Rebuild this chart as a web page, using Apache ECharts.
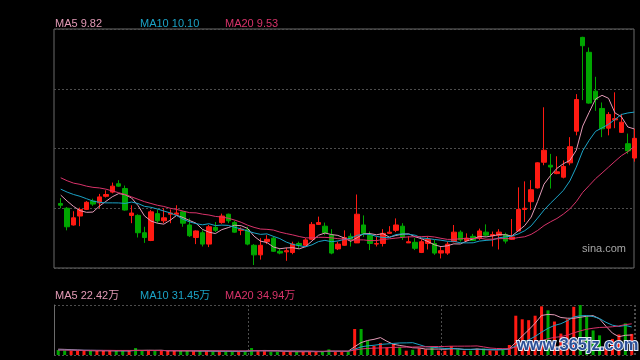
<!DOCTYPE html>
<html><head><meta charset="utf-8">
<script src="https://cdn.jsdelivr.net/npm/echarts@6/dist/echarts.min.js"></script>
<style>html,body{margin:0;padding:0;background:#000;}#c{width:640px;height:360px;}</style>
</head><body><div id="c"></div>
<script>
const opens=[8.58,8.50,8.22,8.37,8.48,8.62,8.59,8.70,8.77,8.91, 8.83,8.38,8.38,8.09,7.96,8.41,8.29,8.40,8.40,8.44, 8.22,8.01,8.09,7.90,8.18,8.26,8.40,8.26,8.13,8.14, 7.88,7.72,7.94,8.00,7.78,7.77,7.76,7.91,7.88,7.98, 8.23,8.20,8.05,7.82,7.88,8.03,7.92,8.22,8.05,7.90, 7.91,8.08,8.13,8.20,7.92,7.93,7.76,7.91,7.91,7.75, 7.75,7.94,8.10,7.96,8.03,8.00,8.10,8.04,8.05,8.06, 7.98,8.12,8.48,8.61,8.84,9.27,9.22,9.08,9.02,9.26, 9.79,11.36,11.11,10.46,10.17,9.84,9.98,9.77,9.58,9.34];
const closes=[8.55,8.19,8.34,8.48,8.60,8.57,8.69,8.73,8.87,8.87, 8.47,8.42,8.09,8.01,8.44,8.29,8.34,8.42,8.42,8.25, 8.04,8.12,7.90,8.19,8.13,8.37,8.29,8.10,8.15,7.90, 7.72,7.88,7.98,7.78,7.75,7.79,7.90,7.88,7.97,8.23, 8.26,8.09,7.75,7.90,8.01,7.98,8.40,8.08,7.91,7.91, 8.08,8.10,8.22,8.02,7.94,7.83,7.94,7.98,7.75,7.79, 7.90,8.10,7.97,8.00,7.96,8.12,8.05,8.06,8.10,7.95, 8.02,8.48,8.50,8.81,9.26,9.47,9.19,9.11,9.20,9.53, 10.32,11.22,10.26,10.32,9.83,10.07,10.00,9.94,9.46,9.67];
const lows=[8.50,8.13,8.21,8.20,8.47,8.54,8.50,8.68,8.75,8.86, 8.46,8.25,8.01,7.92,7.95,8.25,8.25,8.25,8.39,8.19, 8.02,7.90,7.86,7.85,8.10,8.24,8.25,8.09,8.05,7.88, 7.55,7.64,7.90,7.77,7.73,7.62,7.73,7.83,7.87,7.97, 8.22,8.05,7.73,7.80,7.87,7.86,7.92,8.02,7.80,7.86, 7.86,8.07,8.10,7.97,7.92,7.80,7.75,7.81,7.72,7.66, 7.72,7.93,7.94,7.94,7.95,7.97,8.03,7.86,7.81,7.91, 7.97,8.12,8.27,8.47,8.83,9.22,8.83,9.07,9.00,9.22, 9.72,10.31,10.25,10.13,9.69,9.72,9.84,9.76,9.41,9.28];
const highs=[8.67,8.52,8.45,8.51,8.62,8.66,8.74,8.80,8.93,8.97, 8.88,8.55,8.40,8.19,8.47,8.48,8.50,8.48,8.55,8.45, 8.33,8.13,8.13,8.22,8.27,8.41,8.41,8.29,8.18,8.19, 7.90,8.00,8.05,8.03,7.83,7.84,7.94,7.94,8.00,8.27, 8.36,8.26,8.15,7.94,8.13,8.08,8.73,8.38,8.11,8.02, 8.15,8.20,8.33,8.25,8.03,8.00,7.98,8.02,7.97,7.86, 7.94,8.22,8.13,8.08,8.07,8.16,8.23,8.11,8.15,8.09, 8.32,8.85,8.95,8.97,9.27,10.19,9.41,9.37,9.30,9.69, 10.41,11.37,11.19,10.70,10.27,10.11,10.44,10.08,9.75,9.83];
// volume in 万
const volumes=[5.6,5.2,4.8,4.8,4.8,4.5,4.8,4.6,4.8,4.5, 4.8,4.5,7.8,4.6,5.0,4.5,4.8,4.5,4.6,4.5, 4.6,4.2,4.5,4.6,4.0,4.2,4.0,4.0,4.2,4.0, 7.8,4.8,4.6,3.7,3.7,3.7,3.8,3.6,3.8,4.0, 3.8,3.7,6.3,3.8,3.8,3.6,29.1,29.1,15.7,10.1, 13.5,8.6,12.3,9.0,4.8,5.8,7.4,6.2,9.0,4.8, 4.8,10.0,6.3,4.8,4.8,7.2,7.2,4.8,4.8,6.2, 11.2,44.0,40.0,39.0,44.0,54.5,50.0,37.5,24.0,40.0, 54.0,56.0,43.0,27.5,22.0,12.0,18.0,23.0,35.5,23.6];
// moving-average values before the window fills
const ma5Head=[8.72,8.62,8.53,8.46];
const ma10Head=[8.82,8.77,8.73,8.70,8.66,8.62,8.60,8.59,8.59];
const ma20Head=[9.01,8.96,8.92,8.90,8.87,8.85,8.84,8.82,8.79,8.76,8.73,8.69,8.65,8.61,8.58,8.55,8.53,8.50,8.48];
const vma5Head=[6.5,6.3,6.0,5.5];
const vma10Head=[5.8,5.7,5.6,5.5,5.4,5.3,5.2,5.1,5.0];
const vma20Head=[5.5,5.5,5.4,5.4,5.3,5.3,5.2,5.2,5.2,5.1,5.1,5.1,5.1,5.0,5.0,5.0,5.0,4.9,4.9];
const priceLegend=['MA5 9.82','MA10 10.10','MA20 9.53'];
const volLegend=['MA5 22.42万','MA10 31.45万','MA20 34.94万'];
const categories=opens.map((_,i)=>String(i+1));

const UP='#ff1a12', DOWN='#00a600';
const C5='#e39ab6', C10='#1ba3c6', C20='#d8336a';
const FONT='"Liberation Sans", Arial, "Noto Sans CJK SC", sans-serif';

function movingAvg(vals,n,head){
  return vals.map((v,i)=>{
    if(i<n-1) return head[i];
    let s=0; for(let k=i-n+1;k<=i;k++) s+=vals[k];
    return +(s/n).toFixed(3);
  });
}
const dotted={color:'#4d4d4d',width:1,type:[2,2]};
const hiddenAxis={axisLine:{show:false},axisTick:{show:false},axisLabel:{show:false}};

const chart=echarts.init(document.getElementById('c'));
const legendTexts=[];
const legendColors=[C5,C10,C20];
[0,1,2].forEach(k=>{
  legendTexts.push({type:'text',left:55+85*k,top:18.5,style:{text:priceLegend[k],fill:legendColors[k],font:'11px '+FONT}});
  legendTexts.push({type:'text',left:55+85*k,top:290,style:{text:volLegend[k],fill:legendColors[k],font:'11px '+FONT}});
});
legendTexts.push({type:'text',left:582,top:243,style:{text:'sina.com',fill:'#a6a6a6',font:'11px '+FONT}});
legendTexts.push({type:'text',left:516,top:336,z:100,style:{text:'www.365jz.com',fill:'#2b4f96',stroke:'#e6edf8',lineWidth:2,font:'bold 16.5px '+FONT}});

chart.setOption({
  animation:false,
  backgroundColor:'#000',
  grid:[
    {left:54,top:29,width:580,height:239,show:true,borderColor:'#6b6b6b',borderWidth:1,backgroundColor:'transparent'},
    {left:57.5,top:29,width:580,height:239},
    {left:54,top:305,width:580,height:50},
    {left:55,top:305,width:580,height:50}
  ],
  xAxis:[
    Object.assign({gridIndex:0,type:'value',min:0,max:1,splitLine:{show:false}},hiddenAxis),
    {gridIndex:1,type:'category',data:categories,boundaryGap:true,show:false},
    Object.assign({gridIndex:2,type:'value',min:0,max:1,interval:1,splitLine:{show:true,lineStyle:dotted}},hiddenAxis),
    Object.assign({gridIndex:3,type:'category',data:categories,boundaryGap:true,
      splitLine:{show:true,interval:(i)=>i===30||i===60,lineStyle:dotted}},hiddenAxis)
  ],
  yAxis:[
    Object.assign({gridIndex:0,type:'value',min:0,max:4,interval:1,splitLine:{show:true,lineStyle:dotted}},hiddenAxis),
    {gridIndex:1,type:'value',min:7.5,max:11.5,show:false,splitLine:{show:false}},
    {gridIndex:2,type:'value',min:0,max:1,interval:1,splitLine:{show:true,lineStyle:dotted},
      axisLine:{show:true,lineStyle:{color:'#6b6b6b',width:1}},axisTick:{show:false},axisLabel:{show:false}},
    {gridIndex:3,type:'value',min:0,max:56,show:false,splitLine:{show:false}}
  ],
  graphic:legendTexts,
  series:[
    {type:'candlestick',xAxisIndex:1,yAxisIndex:1,barWidth:5,
      data:opens.map((o,i)=>[o,closes[i],lows[i],highs[i]]),
      itemStyle:{color:UP,color0:DOWN,borderColor:UP,borderColor0:DOWN,borderWidth:1}},
    {type:'line',xAxisIndex:1,yAxisIndex:1,data:movingAvg(closes,5,ma5Head),showSymbol:false,z:5,lineStyle:{color:C5,width:1}},
    {type:'line',xAxisIndex:1,yAxisIndex:1,data:movingAvg(closes,10,ma10Head),showSymbol:false,z:5,lineStyle:{color:C10,width:1}},
    {type:'line',xAxisIndex:1,yAxisIndex:1,data:movingAvg(closes,20,ma20Head),showSymbol:false,z:5,lineStyle:{color:C20,width:1}},
    {type:'bar',xAxisIndex:3,yAxisIndex:3,barWidth:3,
      data:volumes.map((v,i)=>({value:v,itemStyle:{color:closes[i]>=opens[i]?UP:DOWN}}))},
    {type:'line',xAxisIndex:3,yAxisIndex:3,data:movingAvg(volumes,5,vma5Head),showSymbol:false,z:5,lineStyle:{color:C5,width:1}},
    {type:'line',xAxisIndex:3,yAxisIndex:3,data:movingAvg(volumes,10,vma10Head),showSymbol:false,z:5,lineStyle:{color:C10,width:1}},
    {type:'line',xAxisIndex:3,yAxisIndex:3,data:movingAvg(volumes,20,vma20Head),showSymbol:false,z:5,lineStyle:{color:C20,width:1}}
  ]
});
</script></body></html>
